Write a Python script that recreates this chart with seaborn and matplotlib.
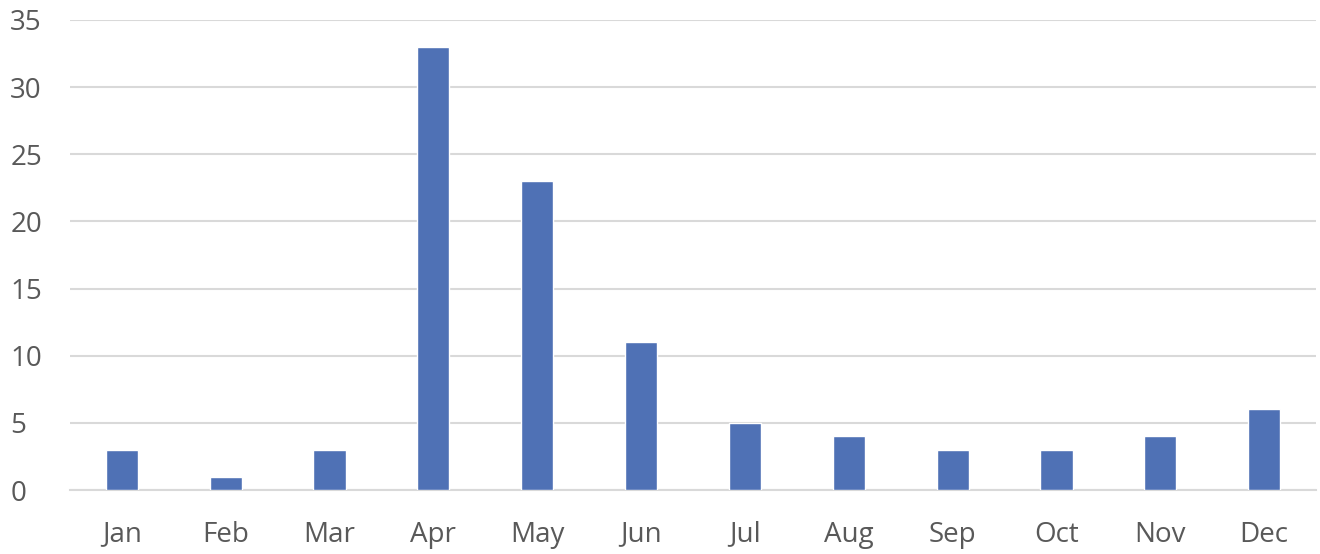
import matplotlib
matplotlib.use("Agg")
import matplotlib.pyplot as plt
import seaborn as sns
import pandas as pd

months = ["Jan", "Feb", "Mar", "Apr", "May", "Jun", "Jul", "Aug", "Sep", "Oct", "Nov", "Dec"]
values = [3, 1, 3, 33, 23, 11, 5, 4, 3, 3, 4, 6]
yticks = [0, 5, 10, 15, 20, 25, 30, 35]

sns.set_theme(style="white")
plt.rcParams['font.family'] = ['Open Sans', 'DejaVu Sans']

df = pd.DataFrame({"month": months, "value": values})

fig = plt.figure(figsize=(13.2, 5.54), dpi=100)
ax = fig.add_axes([0.053, 0.1155, 0.944, 0.8485])
sns.barplot(data=df, x="month", y="value", color="#4F71B5", width=0.31,
            saturation=1, ax=ax, zorder=3)

ax.set_ylim(0, 35)
ax.set_yticks(yticks)
ax.set_xlim(-0.5, len(months) - 0.5)
ax.set_xlabel("")
ax.set_ylabel("")
ax.yaxis.grid(True, color="#D9D9D9", linewidth=1.5, zorder=0)
ax.set_axisbelow(True)
for s in ["top", "right", "left"]:
    ax.spines[s].set_visible(False)
ax.spines["bottom"].set_color("#D9D9D9")
ax.spines["bottom"].set_linewidth(1.5)
ax.tick_params(axis="both", length=0, labelsize=20, colors="#595959")
ax.tick_params(axis="y", pad=43)
ax.tick_params(axis="x", pad=22)
for lbl in ax.get_yticklabels():
    lbl.set_horizontalalignment("left")

fig.savefig("out.png", dpi=100)
